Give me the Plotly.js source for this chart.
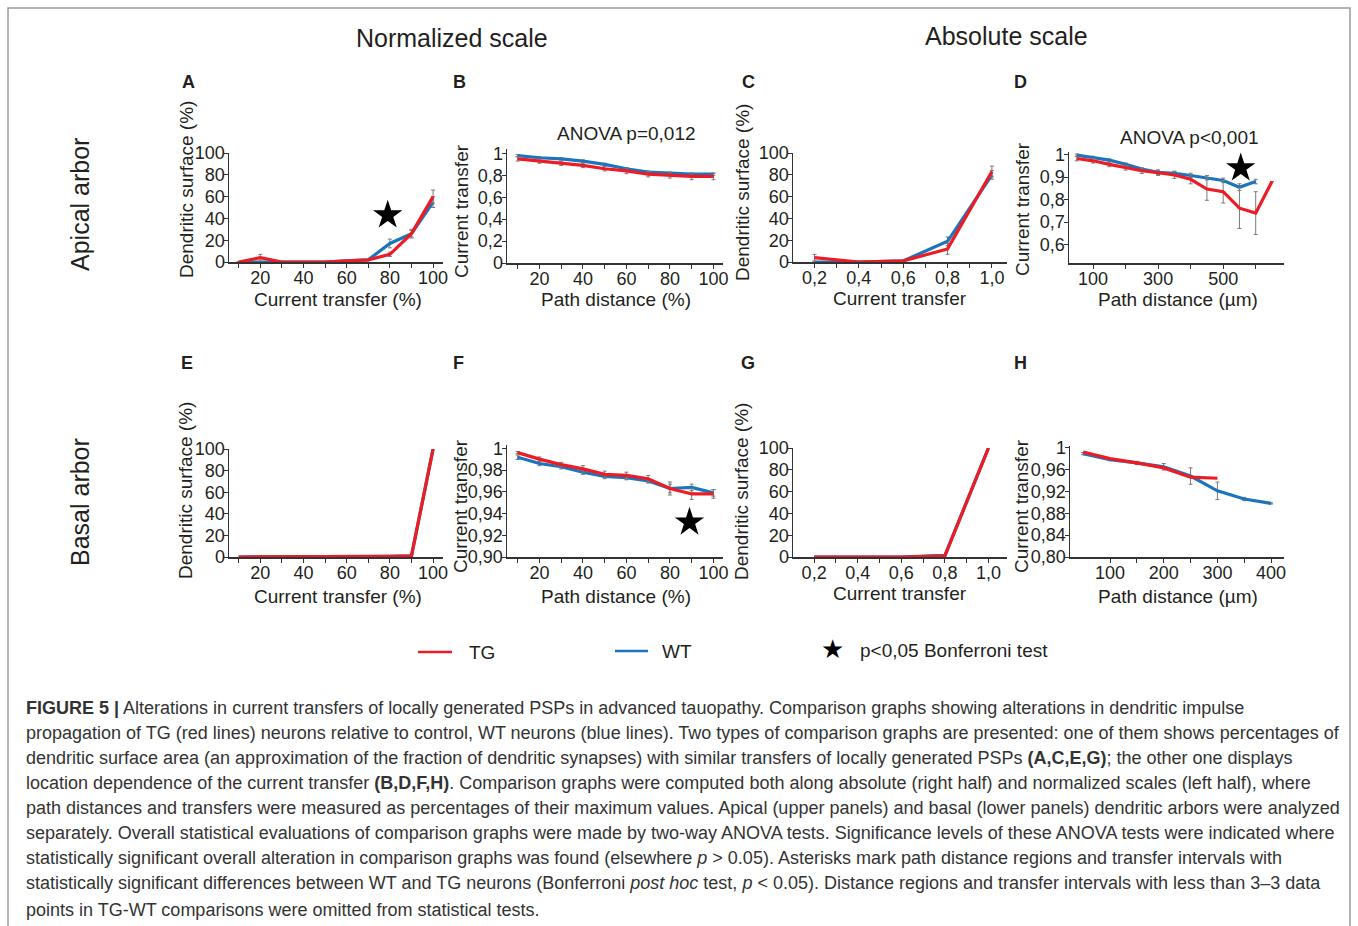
<!DOCTYPE html>
<html><head><meta charset="utf-8">
<script src="https://cdn.plot.ly/plotly-3.0.1.min.js"></script>
<style>html,body{margin:0;padding:0;background:#fff;} #chart{width:1358px;height:926px;}</style>
</head><body><div id="chart"></div>
<script>
// ---------------- DATA ----------------
const pctX = [10,20,30,40,50,60,70,80,90,100];
const transferX = [0.2,0.4,0.6,0.8,1.0];
const distD_WT = [50,100,150,200,250,300,350,400,450,500,550,600];
const distD_TG = [50,100,150,200,250,300,350,400,450,500,550,600,650];
const distH_WT = [50,100,150,200,250,300,350,400];
const distH_TG = [50,100,150,200,250,300];

// A: apical, dendritic surface vs current transfer (%)
const A_WT = [0,0,0,0,0,1,2,17,26,55];
const A_WT_err = [0,0,0,0,0,0,0,4,4,5];
const A_TG = [0,4,0,0,0,1,2,7,26,60];
const A_TG_err = [0,3,0,0,0,0,0,2,3,6];
// B: apical, current transfer vs path distance (%)
const B_WT = [0.98,0.96,0.95,0.93,0.90,0.86,0.83,0.82,0.81,0.81];
const B_WT_err = [0.01,0.01,0.01,0.01,0.01,0.01,0.01,0.01,0.01,0.01];
const B_TG = [0.95,0.93,0.91,0.89,0.86,0.84,0.81,0.80,0.79,0.79];
const B_TG_err = [0.02,0.02,0.02,0.02,0.02,0.025,0.025,0.025,0.03,0.03];
// C: apical, dendritic surface vs current transfer (absolute)
const C_WT = [0,0,1,19,80];
const C_WT_err = [0,0,0,4,4];
const C_TG = [4,0,1,12,83];
const C_TG_err = [3,0,0,5,5];
// D: apical, current transfer vs path distance (µm)
const D_WT = [0.997,0.987,0.975,0.957,0.935,0.921,0.916,0.907,0.897,0.885,0.855,0.88];
const D_WT_err = [0.005,0.005,0.005,0.005,0.005,0.01,0.01,0.01,0.01,0.01,0.015,0.01];
const D_TG = [0.982,0.972,0.956,0.941,0.928,0.919,0.909,0.89,0.847,0.835,0.762,0.74,0.88];
const D_TG_err = [0.01,0.01,0.01,0.01,0.012,0.012,0.015,0.02,0.05,0.05,0.09,0.095,0];
// E: basal, dendritic surface vs current transfer (%)
const E_WT = [0,0,0,0,0,0,0,0.5,1,100];
const E_TG = [0,0,0,0,0,0,0,0.5,1,100];
// F: basal, current transfer vs path distance (%)
const F_WT = [0.9917,0.986,0.983,0.978,0.974,0.973,0.970,0.963,0.964,0.959];
const F_WT_err = [0.002,0.002,0.002,0.002,0.002,0.002,0.002,0.004,0.003,0.003];
const F_TG = [0.996,0.990,0.985,0.981,0.976,0.975,0.972,0.963,0.958,0.958];
const F_TG_err = [0.001,0.002,0.002,0.003,0.003,0.003,0.003,0.006,0.005,0.004];
// G: basal, dendritic surface vs current transfer (absolute)
const G_WT = [0,0,0,1.5,100];
const G_TG = [0,0,0,1,100];
// H: basal, current transfer vs path distance (µm)
const H_WT = [0.989,0.978,0.972,0.965,0.948,0.921,0.906,0.898];
const H_WT_err = [0.002,0.002,0.003,0.006,0.015,0.016,0.003,0.001];
const H_TG = [0.992,0.980,0.972,0.963,0.946,0.944];

// significance stars (Bonferroni)
const starA_x = [79], starA_y = [43];
const starD_x = [554], starD_y = [0.94];
const starF_x = [89], starF_y = [0.932];

// tick labels
const pctTickVals = [10,20,30,40,50,60,70,80,90,100];
const pctTickText = ['','20','','40','','60','','80','','100'];
const surfTickVals = [0,20,40,60,80,100];
const surfTickText = ['0','20','40','60','80','100'];
const trTickVals = [0.2,0.3,0.4,0.5,0.6,0.7,0.8,0.9,1.0];
const trTickText = ['0,2','','0,4','','0,6','','0,8','','1,0'];
const bYVals = [0,0.2,0.4,0.6,0.8,1];
const bYText = ['0','0,2','0,4','0,6','0,8','1'];
const dYVals = [0.6,0.7,0.8,0.9,1];
const dYText = ['0,6','0,7','0,8','0,9','1'];
const dXVals = [100,200,300,400,500,600];
const dXText = ['100','','300','','500',''];
const fYVals = [0.90,0.92,0.94,0.96,0.98,1];
const fYText = ['0,90','0,92','0,94','0,96','0,98','1'];
const hYVals = [0.80,0.84,0.88,0.92,0.96,1];
const hYText = ['0,80','0,84','0,88','0,92','0,96','1'];
const hXVals = [100,150,200,250,300,350,400];
const hXText = ['100','','200','','300','','400'];

// texts
const colTitles = ['Normalized scale','Absolute scale'];
const rowTitles = ['Apical arbor','Basal arbor'];
const panelLetters = ['A','B','C','D','E','F','G','H'];
const xTitleTexts = ['Current transfer (%)','Path distance (%)','Current transfer','Path distance (µm)',
                     'Current transfer (%)','Path distance (%)','Current transfer','Path distance (µm)'];
const yTitleTexts = ['Dendritic surface (%)','Current transfer','Dendritic surface (%)','Current transfer',
                     'Dendritic surface (%)','Current transfer','Dendritic surface (%)','Current transfer'];
const legendNames = ['TG','WT','p&lt;0,05 Bonferroni test'];
const captionLines = [
 '<b>FIGURE 5 |</b> Alterations in current transfers of locally generated PSPs in advanced tauopathy. Comparison graphs showing alterations in dendritic impulse',
 'propagation of TG (red lines) neurons relative to control, WT neurons (blue lines). Two types of comparison graphs are presented: one of them shows percentages of',
 'dendritic surface area (an approximation of the fraction of dendritic synapses) with similar transfers of locally generated PSPs <b>(A,C,E,G)</b>; the other one displays',
 'location dependence of the current transfer <b>(B,D,F,H)</b>. Comparison graphs were computed both along absolute (right half) and normalized scales (left half), where',
 'path distances and transfers were measured as percentages of their maximum values. Apical (upper panels) and basal (lower panels) dendritic arbors were analyzed',
 'separately. Overall statistical evaluations of comparison graphs were made by two-way ANOVA tests. Significance levels of these ANOVA tests were indicated where',
 'statistically significant overall alteration in comparison graphs was found (elsewhere <i>p</i> &gt; 0.05). Asterisks mark path distance regions and transfer intervals with',
 'statistically significant differences between WT and TG neurons (Bonferroni <i>post hoc</i> test, <i>p</i> &lt; 0.05). Distance regions and transfer intervals with less than 3–3 data',
 'points in TG-WT comparisons were omitted from statistical tests.'
];

// ---------------- LAYOUT HELPERS ----------------
const W = 1358, H = 926;
const FONT = 'Liberation Sans, Arial, sans-serif';
const RED = '#ed1c24', BLUE = '#1c75bc', ERR = '#7a7a7a', TXT = '#231f20';
const px = v => v / W;
const py = v => 1 - v / H;

function xAxis(anchor, x0, x1, range, vals, text) {
  return {
    anchor: anchor, domain: [px(x0), px(x1)], range: range,
    tickmode: 'array', tickvals: vals, ticktext: text,
    ticks: 'outside', ticklen: 4, tickwidth: 1, tickcolor: '#333',
    ticklabelstandoff: -5,
    showline: true, linecolor: '#333', linewidth: 1.5, showgrid: false, zeroline: false,
    tickfont: {family: FONT, size: 18, color: TXT},
    fixedrange: true
  };
}
function yAxis(anchor, top, bottom, range, vals, text) {
  return {
    anchor: anchor, domain: [py(bottom), py(top)], range: range,
    tickmode: 'array', tickvals: vals, ticktext: text,
    ticks: 'outside', ticklen: 4, tickwidth: 1, tickcolor: '#333',
    ticklabelstandoff: -5,
    showline: true, linecolor: '#333', linewidth: 1.5, showgrid: false, zeroline: false,
    tickfont: {family: FONT, size: 18, color: TXT},
    fixedrange: true
  };
}
function line(x, y, err, color, xa, ya) {
  const t = {x: x, y: y, xaxis: xa, yaxis: ya, mode: 'lines', type: 'scatter',
    line: {color: color, width: 3.2}, hoverinfo: 'skip', showlegend: false};
  if (err) t.error_y = {type: 'data', array: err, visible: true, color: ERR, thickness: 1, width: 2};
  return t;
}
function star(x, y, xa, ya) {
  return {x: x, y: y, xaxis: xa, yaxis: ya, mode: 'markers', type: 'scatter',
    marker: {symbol: 'star', size: 22, color: '#000'}, hoverinfo: 'skip', showlegend: false};
}

const traces = [
  line(pctX, A_WT, A_WT_err, BLUE, 'x', 'y'),
  line(pctX, A_TG, A_TG_err, RED, 'x', 'y'),
  star(starA_x, starA_y, 'x', 'y'),
  line(pctX, B_WT, B_WT_err, BLUE, 'x2', 'y2'),
  line(pctX, B_TG, B_TG_err, RED, 'x2', 'y2'),
  line(transferX, C_WT, C_WT_err, BLUE, 'x3', 'y3'),
  line(transferX, C_TG, C_TG_err, RED, 'x3', 'y3'),
  line(distD_WT, D_WT, D_WT_err, BLUE, 'x4', 'y4'),
  line(distD_TG, D_TG, D_TG_err, RED, 'x4', 'y4'),
  star(starD_x, starD_y, 'x4', 'y4'),
  line(pctX, E_WT, null, BLUE, 'x5', 'y5'),
  line(pctX, E_TG, null, RED, 'x5', 'y5'),
  line(pctX, F_WT, F_WT_err, BLUE, 'x6', 'y6'),
  line(pctX, F_TG, F_TG_err, RED, 'x6', 'y6'),
  star(starF_x, starF_y, 'x6', 'y6'),
  line(transferX, G_WT, null, BLUE, 'x7', 'y7'),
  line(transferX, G_TG, null, RED, 'x7', 'y7'),
  line(distH_WT, H_WT, H_WT_err, BLUE, 'x8', 'y8'),
  line(distH_TG, H_TG, null, RED, 'x8', 'y8')
];

function ann(text, x, y, size, opts) {
  return Object.assign({text: text, xref: 'paper', yref: 'paper', x: px(x), y: py(y),
    xanchor: 'center', yanchor: 'middle', showarrow: false,
    font: {family: FONT, size: size, color: TXT}}, opts || {});
}

const annotations = [
  ann(colTitles[0], 452, 38, 25),
  ann(colTitles[1], 1006, 36, 25),
  ann(rowTitles[0], 80, 205, 25, {textangle: -90}),
  ann(rowTitles[1], 80, 502, 25, {textangle: -90}),
  ann('ANOVA p=0,012', 626, 133, 19),
  ann('ANOVA p&lt;0,001', 1189, 137, 19)
];
const letterPos = [[188,82],[459,82],[748,82],[1020,82],[187,363],[458,363],[748,363],[1020,363]];
panelLetters.forEach((L, i) => annotations.push(ann('<b>' + L + '</b>', letterPos[i][0], letterPos[i][1], 18)));
const yTitlePos = [[186,190],[462,211],[742,192],[1022,209],[186,491],[460,506],[742,491],[1021,506]];
yTitleTexts.forEach((t, i) => annotations.push(ann(t, yTitlePos[i][0], yTitlePos[i][1], 19, {textangle: -90})));
const xTitlePos = [[338,299],[616,299],[900,298],[1178,299],[338,596],[616,596],[900,593],[1178,596]];
xTitleTexts.forEach((t, i) => annotations.push(ann(t, xTitlePos[i][0], xTitlePos[i][1], 19)));
// legend
annotations.push(ann(legendNames[0], 467, 652, 19, {xanchor: 'left'}));
annotations.push(ann(legendNames[1], 660, 651, 19, {xanchor: 'left'}));
annotations.push(ann('★', 832, 649, 26, {font: {family: 'DejaVu Sans', size: 26, color: '#000'}}));
annotations.push(ann(legendNames[2], 858, 650, 19, {xanchor: 'left'}));
// caption
captionLines.forEach((t, i) => annotations.push(ann(t, 24, 708 + i * 25 + (i === 8 ? 2 : 0), 18,
  {xanchor: 'left', align: 'left', font: {family: FONT, size: 18, color: '#333'}})));

const shapes = [
  {type: 'path', xref: 'paper', yref: 'paper',
   path: `M ${px(8)} ${py(960)} L ${px(8)} ${py(8)} L ${px(1350)} ${py(8)} L ${px(1350)} ${py(960)}`,
   line: {color: '#9a9a9a', width: 1.5}},
  {type: 'line', xref: 'paper', yref: 'paper', x0: px(418), x1: px(452), y0: py(652), y1: py(652), line: {color: RED, width: 2.5}},
  {type: 'line', xref: 'paper', yref: 'paper', x0: px(615), x1: px(648), y0: py(651), y1: py(651), line: {color: BLUE, width: 2.5}}
];

const layout = {
  width: W, height: H, margin: {l: 0, r: 0, t: 0, b: 0},
  paper_bgcolor: '#fff', plot_bgcolor: 'rgba(0,0,0,0)', showlegend: false,
  font: {family: FONT, color: TXT},
  xaxis:  xAxis('y',  229, 443, [5.5, 104.6], pctTickVals, pctTickText),
  yaxis:  yAxis('x',  153, 262, [0, 100], surfTickVals, surfTickText),
  xaxis2: xAxis('y2', 507, 723, [5.1, 104.4], pctTickVals, pctTickText),
  yaxis2: yAxis('x2', 149, 263, [0, 1.04], bYVals, bYText),
  xaxis3: xAxis('y3', 793, 1007, [0.103, 1.068], trTickVals, trTickText),
  yaxis3: yAxis('x3', 153, 262, [0, 100], surfTickVals, surfTickText),
  xaxis4: xAxis('y4', 1069, 1284, [26, 687], dXVals, dXText),
  yaxis4: yAxis('x4', 152, 263, [0.519, 1.011], dYVals, dYText),
  xaxis5: xAxis('y5', 229, 443, [5.5, 104.6], pctTickVals, pctTickText),
  yaxis5: yAxis('x5', 449, 557, [0, 100], surfTickVals, surfTickText),
  xaxis6: xAxis('y6', 507, 723, [5.1, 104.4], pctTickVals, pctTickText),
  yaxis6: yAxis('x6', 445, 557, [0.9, 1.003], fYVals, fYText),
  xaxis7: xAxis('y7', 793, 1007, [0.103, 1.085], trTickVals, trTickText),
  yaxis7: yAxis('x7', 448, 557, [0, 100], surfTickVals, surfTickText),
  xaxis8: xAxis('y8', 1070, 1284, [25.5, 424], hXVals, hXText),
  yaxis8: yAxis('x8', 446, 557, [0.8, 1.003], hYVals, hYText),
  annotations: annotations,
  shapes: shapes
};

Plotly.newPlot('chart', traces, layout, {staticPlot: true, displayModeBar: false});
</script>
</body></html>
